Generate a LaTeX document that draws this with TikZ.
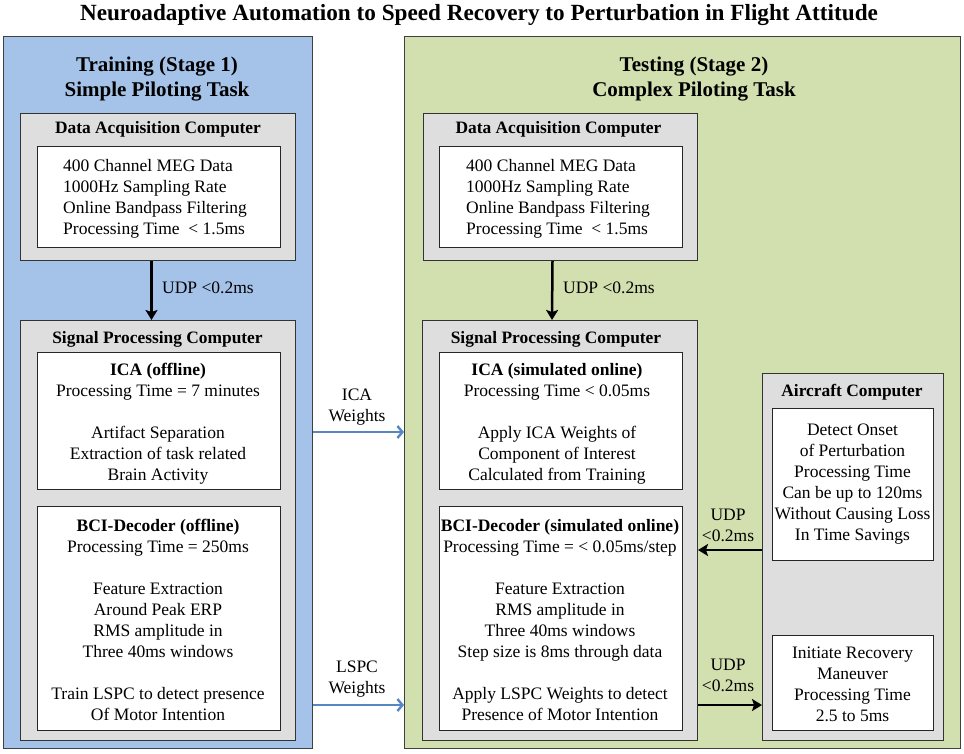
\documentclass[tikz,border=0pt]{standalone}
\usepackage{fontspec}
\setmainfont{Liberation Serif}
\usetikzlibrary{arrows.meta}

\definecolor{trainblue}{RGB}{165,195,232}
\definecolor{testgreen}{RGB}{210,223,175}
\definecolor{boxgray}{RGB}{222,222,222}
\definecolor{arrowblue}{RGB}{86,135,196}

\tikzset{
  panel/.style={draw=black!75, line width=1pt, anchor=north west, inner sep=0},
  graybox/.style={draw=black!80, fill=boxgray, line width=1pt, anchor=north west, inner sep=0},
  whitebox/.style={draw=black!85, fill=white, line width=1pt, anchor=north west, inner sep=0},
  head/.style={font=\fontsize{17.4}{21}\selectfont\bfseries, inner sep=0, anchor=base},
  body/.style={font=\fontsize{17.5}{21}\selectfont, align=center, inner sep=0, anchor=north},
  stagetitle/.style={font=\fontsize{21}{25}\selectfont\bfseries, align=center, inner sep=0, anchor=north},
  udp/.style={line width=2.5pt, -{Stealth[length=10pt,width=12pt,inset=2pt]}},
  weights/.style={draw=arrowblue, line width=2.4pt, -{Straight Barb[length=5pt,width=12pt]}},
}

\begin{document}
\begin{tikzpicture}[x=1pt,y=-1pt]
	\useasboundingbox (0,0) rectangle (964,753);

	% Title of the whole figure
	\node[font=\fontsize{23.2}{27}\selectfont\bfseries, inner sep=0, anchor=base] (title) at (479,20.8)
		{Neuroadaptive Automation to Speed Recovery to Perturbation in Flight Attitude};

	% The two stages
	\node[panel, fill=trainblue, minimum width=309pt, minimum height=712pt] (blueL) at (3,36) {};
	\node[panel, fill=testgreen, minimum width=556pt, minimum height=712pt] (greenR) at (404,36) {};
	\node[stagetitle] (trainTitle) at (157,57) {Training (Stage 1)\\Simple Piloting Task};
	\node[stagetitle] (testTitle) at (694,57) {Testing (Stage 2)\\Complex Piloting Task};

	% Stage 1: data acquisition
	\node[graybox, minimum width=275pt, minimum height=147pt] (daqL) at (20,113) {};
	\node[whitebox, minimum width=243pt, minimum height=101pt] (daqLin) at (37,146) {};
	\node[head] (daqLhead) at (158,133.8) {Data Acquisition Computer};
	\node[body, align=left, anchor=north west] (daqLtxt) at (63,158.7)
		{400 Channel MEG Data\\1000Hz Sampling Rate\\Online Bandpass Filtering\\Processing Time~ < 1.5ms};

	% Stage 1: signal processing
	\node[graybox, minimum width=275pt, minimum height=420pt] (spcL) at (20,320) {};
	\node[head] (spcLhead) at (157.5,343.8) {Signal Processing Computer};
	\node[whitebox, minimum width=243pt, minimum height=137pt] (icaL) at (37,352) {};
	\node[body] (icaLtxt) at (158,362.7)
		{\textbf{ICA (offline)}\\Processing Time = 7 minutes\\[21pt]Artifact Separation\\Extraction of task related\\Brain Activity};
	\node[whitebox, minimum width=243pt, minimum height=224pt] (bciL) at (37,506) {};
	\node[body] (bciLtxt) at (158,518.7)
		{\textbf{BCI-Decoder (offline)}\\Processing Time = 250ms\\[21pt]Feature Extraction\\Around Peak ERP\\RMS amplitude in\\Three 40ms windows\\[21pt]Train LSPC to detect presence\\Of Motor Intention};

	\draw[udp] ([xshift=-6.5pt]daqL.south) -- ([xshift=-6.5pt]spcL.north);
	\node[head, font=\fontsize{17.5}{21}\selectfont, anchor=base west] (udpL) at (162,293.8) {UDP <0.2ms};

	% Stage 2: data acquisition
	\node[graybox, minimum width=274pt, minimum height=147pt] (daqR) at (423,113) {};
	\node[whitebox, minimum width=243pt, minimum height=101pt] (daqRin) at (439,146) {};
	\node[head] (daqRhead) at (558.5,133.8) {Data Acquisition Computer};
	\node[body, align=left, anchor=north west] (daqRtxt) at (466,158.7)
		{400 Channel MEG Data\\1000Hz Sampling Rate\\Online Bandpass Filtering\\Processing Time~ < 1.5ms};

	% Stage 2: signal processing
	\node[graybox, minimum width=275pt, minimum height=420pt] (spcR) at (422,320) {};
	\node[head] (spcRhead) at (556,343.8) {Signal Processing Computer};
	\node[whitebox, minimum width=243pt, minimum height=137pt] (icaR) at (439,352) {};
	\node[body] (icaRtxt) at (557,362.7)
		{\textbf{ICA (simulated online)}\\Processing Time < 0.05ms\\[21pt]Apply ICA Weights of\\Component of Interest\\Calculated from Training};
	\node[whitebox, minimum width=243pt, minimum height=224pt] (bciR) at (439,506) {};
	\node[body] (bciRtxt) at (560,518.7)
		{\textbf{BCI-Decoder (simulated online)}\\Processing Time = < 0.05ms/step\\[21pt]Feature Extraction\\RMS amplitude in\\Three 40ms windows\\Step size is 8ms through data\\[21pt]Apply LSPC Weights to detect\\Presence of Motor Intention};

	\draw[udp] ([xshift=-8pt]daqR.south) -- ([xshift=-8pt]spcR.north);
	\node[head, font=\fontsize{17.5}{21}\selectfont, anchor=base west] (udpR) at (563,293.8) {UDP <0.2ms};

	% Stage 2: aircraft
	\node[graybox, minimum width=181pt, minimum height=367pt] (acc) at (762,373) {};
	\node[head] (accHead) at (852,396.8) {Aircraft Computer};
	\node[whitebox, minimum width=161pt, minimum height=152pt] (detect) at (772,408) {};
	\node[body] (detectTxt) at (852.5,423.7)
		{Detect Onset\\of Perturbation\\Processing Time\\Can be up to 120ms\\Without Causing Loss\\In Time Savings};
	\node[whitebox, minimum width=161pt, minimum height=95pt] (recov) at (772,635) {};
	\node[body] (recovTxt) at (852.5,646.7)
		{Initiate Recovery\\Maneuver\\Processing Time\\2.5 to 5ms};

	\draw[udp] (acc.west |- 0,550) -- (spcR.east |- 0,550);
	\node[body] (udpIn) at (728,508.7) {UDP\\<0.2ms};
	\draw[udp] (spcR.east |- 0,705) -- (acc.west |- 0,705);
	\node[body] (udpOut) at (728,658.7) {UDP\\<0.2ms};

	% Weights carried over from training
	\draw[weights] (blueL.east |- 0,432) -- (greenR.west |- 0,432);
	\node[body] (icaW) at (357,388.7) {ICA\\Weights};
	\draw[weights] (blueL.east |- 0,705) -- (greenR.west |- 0,705);
	\node[body] (lspcW) at (357,660.7) {LSPC\\Weights};
\end{tikzpicture}
\end{document}
